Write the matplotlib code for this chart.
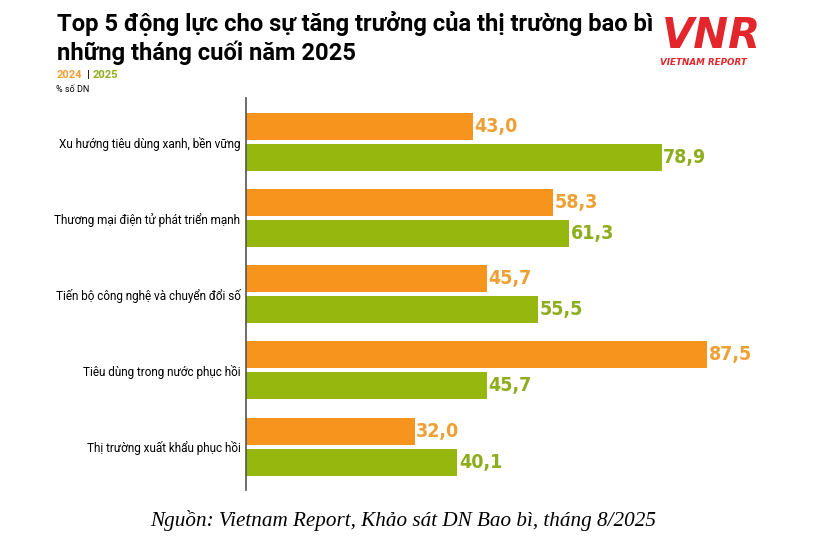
import matplotlib.pyplot as plt
import numpy as np

categories = [
    "Xu hướng tiêu dùng xanh, bền vững",
    "Thương mại điện tử phát triển mạnh",
    "Tiến bộ công nghệ và chuyển đổi số",
    "Tiêu dùng trong nước phục hồi",
    "Thị trường xuất khẩu phục hồi",
]
values_2024 = [43.0, 58.3, 45.7, 87.5, 32.0]
values_2025 = [78.9, 61.3, 55.5, 45.7, 40.1]
labels_2024 = ["43,0", "58,3", "45,7", "87,5", "32,0"]
labels_2025 = ["78,9", "61,3", "55,5", "45,7", "40,1"]

cam = "#F7941D"
xanh = "#96B70E"
cam_chu = "#EFA034"
xanh_chu = "#8DAD1C"

fig = plt.figure(figsize=(8.37, 5.49), dpi=100)
ax = fig.add_axes([0.2939, 0.1075, 0.6296, 0.714])

y = np.arange(len(categories))
ax.barh(y - 0.204, values_2024, height=0.355, color=cam)
ax.barh(y + 0.204, values_2025, height=0.355, color=xanh)

so_font = dict(family="DejaVu Sans", fontstretch="condensed", fontweight="bold", fontsize=14)
for i in range(len(categories)):
    ax.text(values_2024[i] + 0.3, y[i] - 0.204, labels_2024[i], color=cam_chu,
            va="center", ha="left", **so_font)
    ax.text(values_2025[i] + 0.3, y[i] + 0.204, labels_2025[i], color=xanh_chu,
            va="center", ha="left", **so_font)

ax.set_xlim(0, 100)
ax.set_ylim(4.57, -0.578)
ax.set_yticks(y)
ax.set_yticklabels(categories, fontsize=8.5, family="Roboto")
ax.tick_params(axis="y", length=0, pad=4)
ax.set_xticks([])
for s in ["top", "right", "bottom"]:
    ax.spines[s].set_visible(False)
ax.spines["left"].set_color("#555555")
ax.spines["left"].set_linewidth(1.2)

t1 = fig.text(0.068, 0.9435, "Top 5 động lực cho sự tăng trưởng của thị trường bao bì",
              fontsize=17, fontweight="bold", family="Roboto", va="baseline")
t2 = fig.text(0.068, 0.891, "những tháng cuối năm 2025",
              fontsize=17, fontweight="bold", family="Roboto", va="baseline")
# title line 1 spans about 598 px in the reference
r = fig.canvas.get_renderer()
w = t1.get_window_extent(renderer=r).width
co = 17 * 598 / w
t1.set_fontsize(co)
t2.set_fontsize(co)

fig.text(0.067, 0.858, "2024", color=cam_chu, fontsize=8, fontweight="bold",
         family="Roboto", va="baseline")
fig.text(0.1035, 0.858, "|", color="#222222", fontsize=8, fontweight="bold",
         family="Roboto", va="baseline")
fig.text(0.1105, 0.858, "2025", color=xanh_chu, fontsize=8, fontweight="bold",
         family="Roboto", va="baseline")
fig.text(0.067, 0.8325, "% số DN", fontsize=6.5, family="Roboto", va="baseline")

# logo
fig.text(0.85, 0.912, "VNR", color="#E3262B", fontsize=30, fontstyle="italic",
         fontweight="bold", family="DejaVu Sans", ha="center", va="baseline")
fig.text(0.841, 0.881, "VIETNAM REPORT", color="#E3262B", fontsize=6.3,
         fontstyle="italic", fontweight="bold", family="DejaVu Sans",
         ha="center", va="baseline")

fig.text(0.482, 0.042, "Nguồn: Vietnam Report, Khảo sát DN Bao bì, tháng 8/2025",
         fontsize=15.2, fontstyle="italic", family="Liberation Serif",
         ha="center", va="baseline")

fig.savefig("out.png", dpi=100, facecolor="white")
